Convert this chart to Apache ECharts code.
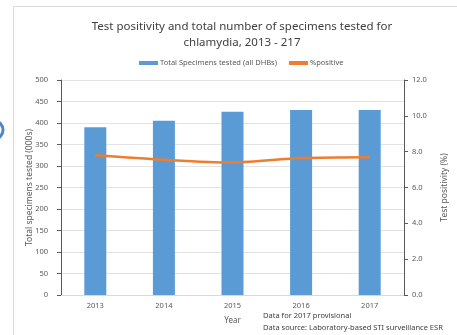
<!DOCTYPE html>
<html><head><meta charset="utf-8">
<script src="https://cdn.jsdelivr.net/npm/echarts@6/dist/echarts.min.js"></script>
<style>html,body{margin:0;padding:0;background:#fff}#c{width:457px;height:335px}</style>
</head><body><div id="c"></div>
<script>
var years = ['2013', '2014', '2015', '2016', '2017'];
var specimens = [390, 405, 426, 430, 430];
var positivity = [7.8, 7.55, 7.4, 7.64, 7.69];
var leftTicks = [0, 50, 100, 150, 200, 250, 300, 350, 400, 450, 500];
var rightTicks = ['0.0', '2.0', '4.0', '6.0', '8.0', '10.0', '12.0'];

var FONT = 'Noto Sans';
var chart = echarts.init(document.getElementById('c'));
chart.setOption({
  animation: false,
  textStyle: {fontFamily: FONT},
  title: {
    text: 'Test positivity and total number of specimens tested for\nchlamydia, 2013 - 217',
    left: 237, top: 14, textAlign: 'center',
    textStyle: {fontSize: 11.5, fontWeight: 'normal', color: '#404040', lineHeight: 16, fontFamily: FONT}
  },
  legend: {
    top: 54, left: 134, itemWidth: 19, itemHeight: 4, itemGap: 12,
    textStyle: {fontSize: 7.5, color: '#595959', fontFamily: FONT, padding: [0, 0, 0, -3]},
    data: [
      {name: 'Total Specimens tested (all DHBs)', icon: 'rect'},
      {name: '%positive', icon: 'rect', itemStyle: {color: '#ed7d31'}}
    ]
  },
  grid: {left: 61, right: 44, top: 80, bottom: 40},
  xAxis: {
    type: 'category', data: years,
    name: 'Year', nameLocation: 'middle', nameGap: 22,
    nameTextStyle: {fontSize: 8, color: '#595959'},
    axisLine: {lineStyle: {color: '#d9d9d9'}},
    axisTick: {show: false},
    axisLabel: {fontSize: 7.5, color: '#595959', margin: 7}
  },
  yAxis: [
    {
      type: 'value', min: 0, max: 500, interval: 50,
      name: 'Total specimens tested (000s)', nameLocation: 'middle', nameGap: 27, nameMoveOverlap: false,
      nameTextStyle: {fontSize: 8.5, color: '#595959'},
      axisLine: {show: true, lineStyle: {color: '#595959'}},
      axisTick: {show: true, length: 4, lineStyle: {color: '#595959'}},
      axisLabel: {fontSize: 7.5, color: '#595959', margin: 13},
      splitLine: {lineStyle: {color: '#e3e3e3'}}
    },
    {
      type: 'value', min: 0, max: 12, interval: 2, position: 'right',
      name: 'Test positivity (%)', nameLocation: 'middle', nameGap: 36, nameRotate: 90, nameMoveOverlap: false,
      nameTextStyle: {fontSize: 8.5, color: '#595959'},
      axisLine: {show: true, lineStyle: {color: '#595959'}},
      axisTick: {show: true, length: 4, lineStyle: {color: '#595959'}},
      axisLabel: {fontSize: 7.5, color: '#595959', margin: 8,
        formatter: function (v) { return v.toFixed(1); }},
      splitLine: {show: false}
    }
  ],
  series: [
    {
      name: 'Total Specimens tested (all DHBs)', type: 'bar', data: specimens,
      barWidth: 22, itemStyle: {color: '#5b9bd5'}
    },
    {
      name: '%positive', type: 'line', yAxisIndex: 1, data: positivity,
      smooth: 0.3, symbol: 'none', lineStyle: {color: '#ed7d31', width: 2.5},
      itemStyle: {color: '#ed7d31'}
    }
  ],
  graphic: [
    {type: 'rect', shape: {x: 13.5, y: 6.5, width: 460, height: 340}, style: {fill: 'none', stroke: '#d9d9d9', lineWidth: 1}, silent: true},
    {type: 'circle', shape: {cx: -6, cy: 130, r: 9}, style: {fill: 'none', stroke: '#4f86c6', lineWidth: 3}, silent: true},
    {type: 'text', left: 263, top: 312, style: {text: 'Data for 2017 provisional', font: '7.5px "Noto Sans"', fill: '#404040'}},
    {type: 'text', left: 263, top: 324, style: {text: 'Data source: Laboratory-based STI surveillance ESR', font: '7.5px "Noto Sans"', fill: '#404040'}}
  ]
});
</script></body></html>
